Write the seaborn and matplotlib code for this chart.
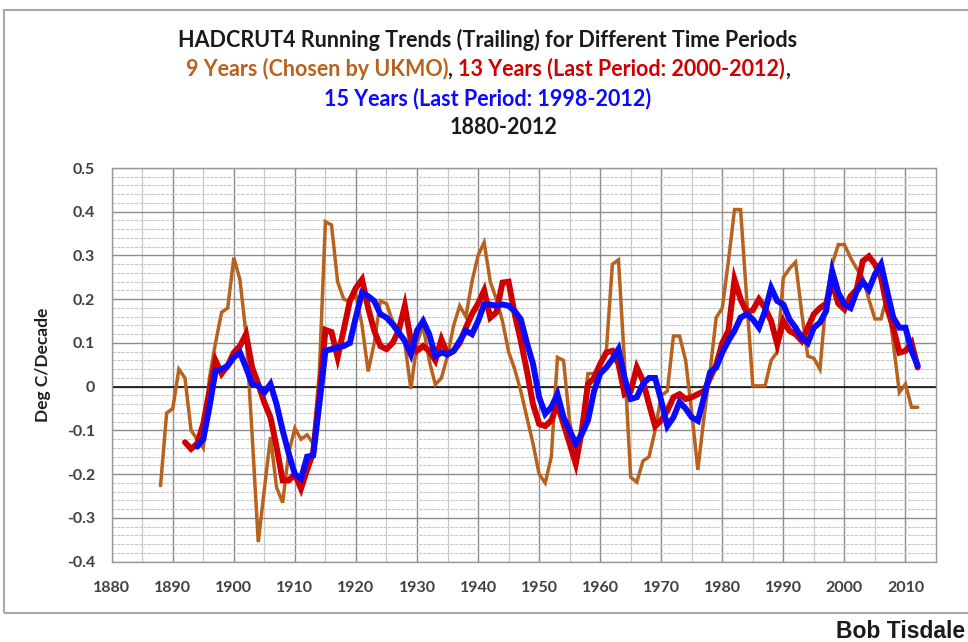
"""
HADCRUT4 running trailing trends (9, 13 and 15 year windows), 1880-2012.
"""

import matplotlib
matplotlib.use("Agg")
import matplotlib.patches as mpatches
import matplotlib.pyplot as plt
import numpy as np
import pandas as pd
import seaborn as sns
from matplotlib.offsetbox import AnchoredOffsetbox, HPacker, TextArea

W, H = 968, 642

BROWN = "#B8621E"
RED = "#D00000"
BLUE = "#0A0AFF"
GRID_MAJOR = "#8c8c8c"
GRID_MINOR = "#c8c8c8"
TICK_COLOR = "#404040"

# trend values, deg C per decade, one per end year
trend_9yr = [
    -0.226, -0.06, -0.05, 0.04, 0.02, -0.10, -0.12, -0.14, 0.02, 0.10,      # 1888-1897
    0.17, 0.18, 0.295, 0.245, 0.12, -0.11, -0.355, -0.235, -0.115, -0.23,   # 1898-1907
    -0.265, -0.15, -0.095, -0.12, -0.11, -0.13, 0.03, 0.377, 0.37, 0.24,    # 1908-1917
    0.20, 0.195, 0.21, 0.14, 0.035, 0.10, 0.196, 0.19, 0.15, 0.13,          # 1918-1927
    0.10, -0.005, 0.10, 0.14, 0.06, 0.005, 0.02, 0.07, 0.14, 0.185,         # 1928-1937
    0.16, 0.24, 0.30, 0.33, 0.24, 0.20, 0.15, 0.08, 0.04, -0.01,            # 1938-1947
    -0.07, -0.13, -0.20, -0.22, -0.16, 0.067, 0.06, -0.08, -0.15, -0.09,    # 1948-1957
    0.03, 0.03, 0.05, 0.08, 0.28, 0.29, 0.05, -0.207, -0.218, -0.17,        # 1958-1967
    -0.16, -0.10, -0.02, -0.01, 0.116, 0.116, 0.06, -0.06, -0.19, -0.07,    # 1968-1977
    0.036, 0.158, 0.18, 0.287, 0.405, 0.405, 0.20, 0.002, 0.002, 0.002,     # 1978-1987
    0.06, 0.08, 0.25, 0.27, 0.285, 0.17, 0.07, 0.065, 0.04, 0.20,           # 1988-1997
    0.28, 0.325, 0.325, 0.295, 0.27, 0.25, 0.20, 0.155, 0.155, 0.21,        # 1998-2007
    0.10, -0.013, 0.006, -0.047, -0.047,                                    # 2008-2012
]

trend_13yr = [
    -0.127, -0.142, -0.13, -0.085, -0.01, 0.06, 0.03, 0.048,                # 1892-1899
    0.078, 0.093, 0.12, 0.044, 0.006, -0.036, -0.07, -0.138, -0.214, -0.214,  # 1900-1909
    -0.20, -0.233, -0.19, -0.15, -0.02, 0.13, 0.125, 0.067, 0.13, 0.196,    # 1910-1919
    0.226, 0.245, 0.18, 0.128, 0.093, 0.086, 0.10, 0.128, 0.185, 0.105,     # 1920-1929
    0.082, 0.093, 0.082, 0.06, 0.108, 0.074, 0.082, 0.10, 0.135, 0.166,     # 1930-1939
    0.19, 0.22, 0.158, 0.17, 0.238, 0.24, 0.166, 0.105, 0.036, -0.04,       # 1940-1949
    -0.085, -0.09, -0.077, -0.04, -0.085, -0.13, -0.176, -0.10, 0.006, 0.02,  # 1950-1959
    0.052, 0.078, 0.082, 0.052, -0.017, -0.01, 0.044, 0.014, -0.04, -0.09,  # 1960-1969
    -0.077, -0.055, -0.024, -0.017, -0.028, -0.024, -0.017, -0.01, 0.02, 0.05,  # 1970-1979
    0.10, 0.128, 0.245, 0.20, 0.17, 0.175, 0.20, 0.18, 0.15, 0.097,         # 1980-1989
    0.15, 0.128, 0.12, 0.105, 0.135, 0.166, 0.18, 0.19, 0.238, 0.19,        # 1990-1999
    0.177, 0.207, 0.222, 0.287, 0.298, 0.28, 0.25, 0.18, 0.135, 0.078,      # 2000-2009
    0.082, 0.10, 0.044,                                                     # 2010-2012
]

trend_15yr = [
    -0.137, -0.12, -0.047, 0.036, 0.04, 0.048,                              # 1894-1899
    0.067, 0.078, 0.044, 0.006, 0.002, -0.013, 0.006, -0.04, -0.10, -0.153,  # 1900-1909
    -0.20, -0.21, -0.16, -0.157, -0.04, 0.082, 0.086, 0.09, 0.093, 0.10,    # 1910-1919
    0.16, 0.215, 0.207, 0.196, 0.166, 0.158, 0.143, 0.124, 0.105, 0.074,    # 1920-1929
    0.128, 0.15, 0.12, 0.07, 0.078, 0.074, 0.082, 0.105, 0.128, 0.12,       # 1930-1939
    0.15, 0.188, 0.188, 0.185, 0.188, 0.185, 0.173, 0.154, 0.10, 0.052,     # 1940-1949
    -0.024, -0.062, -0.047, -0.017, -0.07, -0.10, -0.13, -0.108, -0.077, -0.01,  # 1950-1959
    0.03, 0.044, 0.063, 0.086, 0.02, -0.028, -0.024, 0.006, 0.02, 0.02,     # 1960-1969
    -0.032, -0.09, -0.07, -0.035, -0.05, -0.07, -0.078, -0.024, 0.033, 0.044,  # 1970-1979
    0.078, 0.105, 0.128, 0.158, 0.166, 0.154, 0.135, 0.173, 0.226, 0.196,   # 1980-1989
    0.188, 0.154, 0.135, 0.112, 0.10, 0.135, 0.147, 0.173, 0.264, 0.215,    # 1990-1999
    0.188, 0.18, 0.218, 0.24, 0.222, 0.257, 0.28, 0.218, 0.158, 0.135,      # 2000-2009
    0.135, 0.082, 0.048,                                                    # 2010-2012
]

END_YEAR = 2012
x_ticks = list(range(1880, 2011, 10))
y_ticks = [0.5, 0.4, 0.3, 0.2, 0.1, 0, -0.1, -0.2, -0.3, -0.4]
y_tick_labels = ["0.5", "0.4", "0.3", "0.2", "0.1", "0", "-0.1", "-0.2", "-0.3", "-0.4"]


def to_frame(values):
    years = np.arange(END_YEAR - len(values) + 1, END_YEAR + 1)
    return pd.DataFrame({"year": years, "trend": values})


sns.set_theme(style="white")
plt.rcParams["font.family"] = ["Lato", "DejaVu Sans"]

fig = plt.figure(figsize=(W / 100, H / 100), dpi=100)
fig.patch.set_facecolor("white")

# outer chart frame
fig.add_artist(mpatches.Rectangle((4 / W, 1 - 613 / H), 1.2, (613 - 10) / H,
                                  transform=fig.transFigure, fill=False,
                                  edgecolor="#a8a8a8", linewidth=1.5))

ax = fig.add_axes([111.7 / W, 1 - 561.7 / H, (936 - 111.7) / W, (561.7 - 168) / H])

for values, color, lw in [(trend_9yr, BROWN, 2.5), (trend_13yr, RED, 4.3), (trend_15yr, BLUE, 4.3)]:
    sns.lineplot(data=to_frame(values), x="year", y="trend", ax=ax,
                 color=color, linewidth=lw, solid_joinstyle="miter")

ax.axhline(0, color="black", linewidth=1.1, zorder=1.5)

ax.set_xlim(1880, 2015)
ax.set_ylim(-0.4, 0.5)
ax.set_xticks(x_ticks)
ax.set_xticks(np.arange(1885, 2015, 10), minor=True)
ax.set_yticks(y_ticks)
ax.set_yticklabels(y_tick_labels)
ax.set_yticks(np.arange(-0.4, 0.5, 0.02), minor=True)
ax.grid(which="major", axis="both", color=GRID_MAJOR, linewidth=1.0)
ax.grid(which="minor", axis="x", color=GRID_MINOR, linewidth=0.9)
ax.grid(which="minor", axis="y", color=GRID_MINOR, linewidth=0.8, linestyle=(0, (3, 1)))
ax.set_axisbelow(True)
ax.tick_params(which="both", length=0)
ax.tick_params(axis="y", pad=12)
ax.tick_params(axis="x", pad=14)
for lab in ax.get_xticklabels() + ax.get_yticklabels():
    lab.set_fontweight("bold")
    lab.set_fontsize(11.5)
    lab.set_color(TICK_COLOR)
for spine in ax.spines.values():
    spine.set_color("#9a9a9a")
    spine.set_linewidth(1.0)
ax.set_xlabel("")
ax.set_ylabel("")

fig.text(43 / W, 1 - 365 / H, "Deg C/Decade", rotation=90, ha="center", va="center",
         fontsize=12.5, fontweight="bold", color="#202020")

title_kw = dict(fontsize=15.5, fontweight="bold")
fig.text(488 / W, 1 - 40 / H, "HADCRUT4 Running Trends (Trailing) for Different Time Periods",
         ha="center", va="center", color="#1a1a1a", **title_kw)

parts = [
    ("9 Years (Chosen by UKMO)", BROWN),
    (", ", "#1a1a1a"),
    ("13 Years (Last Period: 2000-2012)", RED),
    (",", "#1a1a1a"),
]
packer = HPacker(children=[TextArea(t, textprops=dict(color=c, **title_kw)) for t, c in parts],
                 align="center", pad=0, sep=0)
fig.add_artist(AnchoredOffsetbox(loc="center", child=packer, pad=0, borderpad=0, frameon=False,
                                 bbox_to_anchor=(488 / W, 1 - 69 / H),
                                 bbox_transform=fig.transFigure))

fig.text(488 / W, 1 - 99 / H, "15 Years (Last Period: 1998-2012)",
         ha="center", va="center", color=BLUE, **title_kw)
fig.text(504 / W, 1 - 128 / H, "1880-2012",
         ha="center", va="center", color="#1a1a1a", **title_kw)

fig.text(965 / W, 1 - 632 / H, "Bob Tisdale", ha="right", va="center",
         fontsize=16.5, fontweight="bold", color="#1a1a1a", family=["Liberation Sans", "DejaVu Sans"])

fig.savefig("out.png", dpi=100, facecolor="white")
